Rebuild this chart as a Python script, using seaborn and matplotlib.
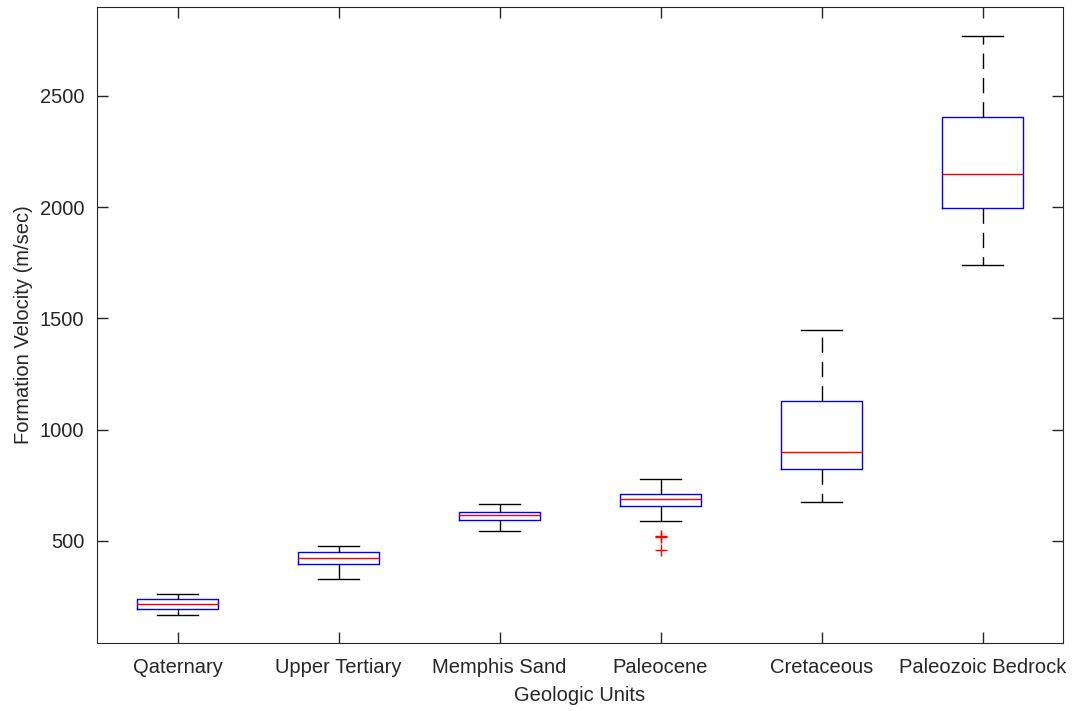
import pandas as pd
import matplotlib.pyplot as plt
import seaborn as sns

# Unidades geológicas y velocidades (m/s)
units = ["Qaternary", "Upper Tertiary", "Memphis Sand", "Paleocene",
         "Cretaceous", "Paleozoic Bedrock"]

qaternary = [167, 194, 214, 238, 262]
upper_tertiary = [329, 397, 422, 449, 478]
memphis_sand = [546, 594, 614, 630, 665]
paleocene = [460, 515, 521, 587, 657, 657, 657, 657, 686,
             686, 686, 686, 710, 710, 710, 710, 777]
cretaceous = [674, 824, 900, 1129, 1448]
paleozoic = [1739, 1995, 2151, 2404, 2768]

yticks = [500, 1000, 1500, 2000, 2500]

values = [qaternary, upper_tertiary, memphis_sand, paleocene, cretaceous, paleozoic]
df = pd.DataFrame({
    "Unidad": [u for u, v in zip(units, values) for _ in v],
    "Velocidad": [x for v in values for x in v],
})

plt.rcParams["font.family"] = ["Liberation Sans", "DejaVu Sans"]
txt = "#262626"

fig = plt.figure(figsize=(10.73, 7.11), dpi=100)
ax = fig.add_axes([0.0904, 0.0956, 0.9003, 0.8945])

sns.boxplot(data=df, x="Unidad", y="Velocidad", order=units, ax=ax,
            fill=False, width=0.5, whis=1.5, linewidth=1.0,
            boxprops=dict(color="blue", linewidth=1.0),
            medianprops=dict(color="red", linewidth=1.0),
            whiskerprops=dict(color="black", linewidth=1.0, linestyle=(0, (11, 6.5))),
            capprops=dict(color="black", linewidth=1.0),
            flierprops=dict(marker="+", markeredgecolor="red", markersize=9,
                            markeredgewidth=1.0))

ax.set_xlim(-0.5, 5.5)
ax.set_ylim(40, 2900)
ax.set_yticks(yticks)
ax.set_yticklabels([str(t) for t in yticks])
ax.set_xlabel("Geologic Units", fontsize=14.5, color=txt, labelpad=6)
ax.set_ylabel("Formation Velocity (m/sec)", fontsize=14.5, color=txt, labelpad=5)
ax.tick_params(axis="both", direction="in", length=8, width=1.0, colors=txt,
               labelsize=14.5, top=True, right=True)
ax.tick_params(axis="y", pad=9)
ax.tick_params(axis="x", pad=11)
for s in ax.spines.values():
    s.set_color(txt)
    s.set_linewidth(0.8)

fig.savefig("out.png", dpi=100)
